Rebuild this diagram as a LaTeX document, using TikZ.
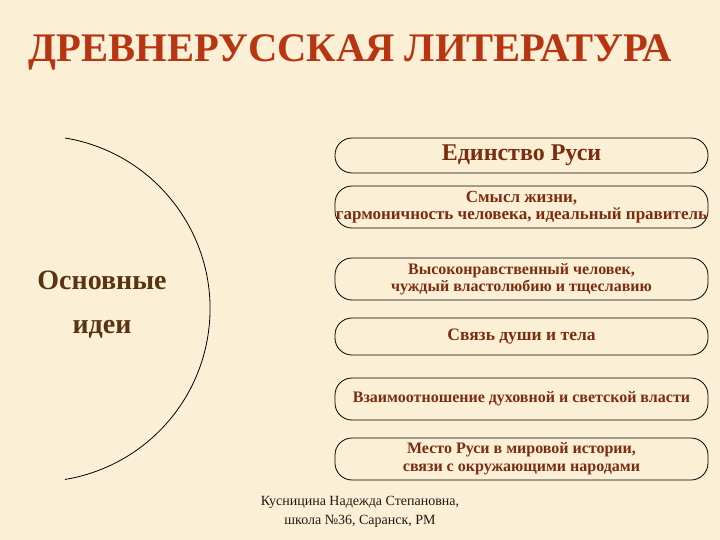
\documentclass[tikz,border=0pt]{standalone}
\usepackage{fontspec}
\setmainfont{Liberation Serif}
\definecolor{bg}{HTML}{FBEFD6}
\definecolor{titlecol}{HTML}{B83512}
\definecolor{boxtext}{HTML}{7B2D10}
\definecolor{ideacol}{HTML}{5A3311}
\definecolor{authcol}{HTML}{1E1A14}
\tikzset{
  idea/.style={draw=black, line width=0.8pt, rounded corners=17pt, minimum width=373pt,
    inner sep=0pt, align=center, text=boxtext, font=\bfseries\fontsize{16}{17.5}\selectfont},
}
\begin{document}
\begin{tikzpicture}[x=1pt,y=-1pt]
\fill[bg] (0,0) rectangle (720,540);
\useasboundingbox (0,0) rectangle (720,540);
\node[text=titlecol, font=\bfseries\fontsize{40.6}{44}\selectfont, inner sep=0pt, anchor=base] (title) at (350.5,62) {ДРЕВНЕРУССКАЯ ЛИТЕРАТУРА};
\draw[line width=0.8pt] (65,138) arc[start angle=-80.7, end angle=80.7, radius=173];
\node[text=ideacol, font=\bfseries\fontsize{28}{44}\selectfont, align=center, inner sep=0pt] (main) at (102,305) {Основные\\идеи};
\node[idea, minimum height=35pt, font=\bfseries\fontsize{24}{26}\selectfont] (b1) at (521.5,155.5) {Единство Руси};
\node[idea, minimum height=42pt, font=\bfseries\fontsize{17}{17.5}\selectfont] (b2) at (521.5,207) {Смысл жизни,\\гармоничность человека, идеальный правитель};
\node[idea, minimum height=42pt, font=\bfseries\fontsize{16}{16.5}\selectfont] (b3) at (521.5,279) {Высоконравственный человек,\\чуждый властолюбию и тщеславию};
\node[idea, minimum height=37pt, font=\bfseries\fontsize{17.5}{20}\selectfont] (b4) at (521.5,336.5) {Связь души и тела};
\node[idea, minimum height=42pt, font=\bfseries\fontsize{16}{20}\selectfont] (b5) at (521.5,399) {Взаимоотношение духовной и светской власти};
\node[idea, minimum height=42pt, font=\bfseries\fontsize{16}{18}\selectfont] (b6) at (521.5,459) {Место Руси в мировой истории,\\связи с окружающими народами};
\node[text=authcol, font=\fontsize{14}{19}\selectfont, align=center, inner sep=0pt] (auth) at (360,512) {Кусницина Надежда Степановна,\\школа №36, Саранск, РМ};
\end{tikzpicture}
\end{document}
